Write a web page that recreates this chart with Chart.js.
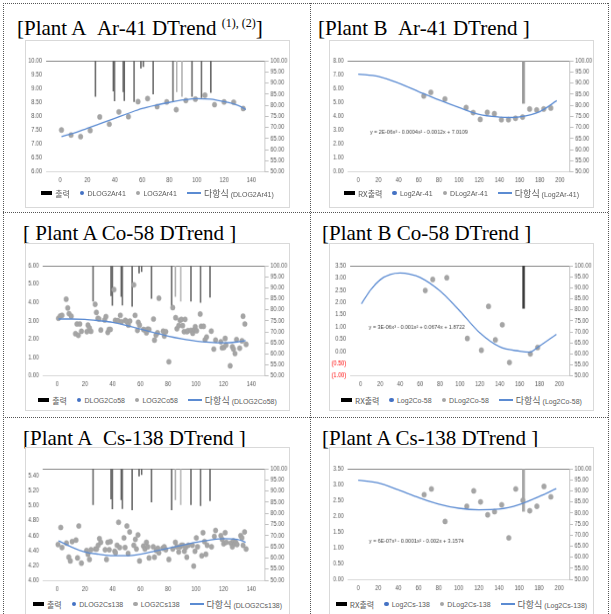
<!DOCTYPE html>
<html>
<head>
<meta charset="utf-8">
<script src="https://cdn.jsdelivr.net/npm/chart.js@4.4.0/dist/chart.umd.min.js"></script>
<style>
  html, body { margin: 0; padding: 0; background: #fff; }
  body { width: 611px; height: 614px; position: relative; overflow: hidden; font-family: "Liberation Sans", sans-serif; }
  .rule { position: absolute; border: 0 dotted #555; }
  .title { position: absolute; font-family: "Liberation Serif", serif; font-size: 21px; line-height: 22px; white-space: nowrap; color: #000; }
  .title sup { font-size: 12px; vertical-align: 0; position: relative; top: -8px; }
  .box { position: absolute; width: 263px; height: 166px; outline: 1px solid #d9d9d9; background: #fff; }
  .plot { position: absolute; left: 0; top: 0; width: 263px; height: 148px; }
  .legend { position: absolute; left: 0; width: 263px; height: 12px; display: flex; justify-content: center; align-items: center; gap: 10px; font-size: 7px; color: #595959; white-space: nowrap; }
  .legend .it { display: flex; align-items: center; gap: 3px; }
  .legend .ko { font-family: "Noto Sans CJK KR", sans-serif; font-size: 8px; }
  .legend .big { font-family: "Noto Sans CJK KR", sans-serif; font-size: 9px; }
  .mk-bar { display: inline-block; width: 11px; height: 4px; background: #000; }
  .mk-dot { display: inline-block; width: 4.5px; height: 4.5px; border-radius: 50%; }
  .mk-line { display: inline-block; width: 14px; height: 1.4px; background: #5b8bd2; }
</style>
</head>
<body>

<div class="rule" style="left:3px; top:3px; width:605px; border-top-width:1px;"></div>
<div class="rule" style="left:3px; top:3px; height:611px; border-left-width:1px;"></div>
<div class="rule" style="left:608px; top:3px; height:611px; border-left-width:1px;"></div>
<div class="rule" style="left:310px; top:3px; height:611px; border-left-width:1px;"></div>
<div class="rule" style="left:3px; top:212px; width:605px; border-top-width:1px;"></div>
<div class="rule" style="left:3px; top:417px; width:605px; border-top-width:1px;"></div>

<div class="title" style="left:17px; top:17px;">[Plant A&nbsp;&nbsp;Ar-41 DTrend <sup>(1), (2)</sup>]</div>
<div class="title" style="left:318px; top:17px;">[Plant B&nbsp;&nbsp;Ar-41 DTrend ]</div>
<div class="title" style="left:23px; top:222px;">[ Plant A Co-58 DTrend ]</div>
<div class="title" style="left:322px; top:222px;">[Plant B Co-58 DTrend ]</div>
<div class="title" style="left:23px; top:427px;">[Plant A&nbsp;&nbsp;Cs-138 DTrend ]</div>
<div class="title" style="left:322px; top:427px;">[Plant A Cs-138 DTrend ]</div>

<div id="panels"></div>

<script>
// ---- Plant A 출력 (same for the three Plant A charts), right axis %
const outAX   = [25.9, 38.9, 39.8, 46.2, 47.0, 54.1, 59.1, 60.9, 68.1, 82.6, 85.3, 89.2, 96.5, 103.5, 110.3];
const outALow = [83.9, 86.4, 82.0, 86.1, 82.1, 81.6, 96.7, 97.4, 85.1, 81.6, 86.1, 83.9, 83.9, 83.4, 85.7];
const outAShade = ['d', 'd', 'd', 'd', 'd', 'd', 'd', 'd', 'd', 'd', 'l', 'l', 'd', 'd', 'd'];

// ---- Plant B RX출력
const outB2X = [163.9], outB2Low = [80.9];
const outB4X = [164.0], outB4Low = [80.7];
const outB6X = [164.4], outB6Low = [80.7];

// ---- Plant A Ar-41
const p1X = [1, 8, 15, 22, 29, 36, 43, 50, 57, 64, 71, 78, 85, 92, 99, 106, 113, 120, 127, 134];
const p1Y = [7.51, 7.33, 7.27, 7.49, 7.98, 7.72, 8.16, 7.99, 8.53, 8.64, 8.35, 8.52, 8.24, 8.57, 8.62, 8.76, 8.42, 8.52, 8.51, 8.28];
const p1TrendX = [1, 10, 20, 30, 40, 50, 60, 70, 80, 90, 100, 110, 120, 130, 136];
const p1TrendY = [7.27, 7.40, 7.57, 7.75, 7.93, 8.11, 8.28, 8.40, 8.50, 8.59, 8.64, 8.62, 8.53, 8.40, 8.25];

// ---- Plant B Ar-41
const p2X = [65, 72, 86, 107, 114, 121, 128, 135, 142, 149, 156, 163, 170, 177, 184, 191];
const p2Y = [5.47, 5.73, 5.25, 4.63, 4.27, 3.78, 4.29, 4.19, 3.76, 3.76, 3.86, 3.95, 4.53, 4.46, 4.53, 4.60];
const p2TrendX = [0, 20, 40, 60, 80, 100, 120, 140, 150, 160, 180, 197];
const p2TrendY = [7.04, 6.87, 6.39, 5.78, 5.18, 4.63, 4.14, 3.95, 3.92, 3.96, 4.34, 5.13];

// ---- Plant A Co-58
const p3X = [0.9, 2.2, 3.5, 6.5, 7.6, 8.6, 10.2, 13.2, 14.3, 15.3, 16.4, 17.5, 21.4, 22.2, 23.3, 24.4, 27.4, 28.3, 29.4, 30.2,
  31.5, 34.3, 35.2, 36.5, 37.4, 38.4, 41.0, 41.9, 43.8, 45.6, 46.4, 49.2, 50.3, 51.4, 52.5, 55.3, 56.2, 57.9, 58.5, 59.4,
  62.2, 63.3, 64.4, 65.4, 66.3, 69.5, 70.2, 71.3, 72.4, 73.4, 76.5, 77.3, 78.4, 80.6, 83.4, 85.5, 86.4, 87.7, 88.6, 89.6,
  90.5, 91.6, 92.3, 93.7, 94.4, 96.5, 97.8, 98.9, 99.6, 100.6, 103.2, 103.9, 105.6, 106.7, 107.8, 111.2, 113.0, 114.3, 118.1, 119.0,
  120.3, 121.2, 121.8, 124.8, 126.4, 127.2, 128.3, 129.4, 131.7, 133.3, 134.1, 135.4, 136.3];
const p3Y = [3.14, 3.26, 3.30, 4.18, 3.70, 3.39, 3.25, 2.30, 2.83, 2.21, 2.83, 2.43, 2.41, 2.77, 2.61, 2.43, 3.90, 3.46, 3.14, 3.10,
  2.50, 3.05, 3.23, 2.37, 2.53, 2.53, 4.70, 3.03, 3.01, 3.30, 2.95, 3.03, 2.95, 2.77, 2.99, 4.96, 3.30, 2.48, 2.92, 2.77,
  2.53, 2.50, 2.35, 2.55, 2.53, 3.10, 1.95, 2.22, 2.35, 4.23, 2.44, 2.17, 2.41, 0.77, 3.72, 3.17, 2.57, 2.74, 3.03, 3.08,
  2.74, 2.41, 3.08, 2.41, 2.46, 2.48, 2.32, 2.52, 2.68, 2.46, 3.37, 2.70, 2.70, 1.97, 2.12, 2.44, 1.46, 1.95, 1.86, 1.53,
  1.55, 2.04, 1.68, 0.55, 1.59, 1.46, 1.22, 1.98, 1.51, 1.91, 3.25, 2.83, 1.72];
const p3TrendX = [1, 10, 20, 30, 40, 50, 60, 70, 80, 90, 100, 110, 120, 130, 136];
const p3TrendY = [3.10, 3.10, 3.08, 3.01, 2.92, 2.75, 2.55, 2.36, 2.17, 2.02, 1.90, 1.83, 1.80, 1.85, 1.93];

// ---- Plant B Co-58
const p4X = [65.2, 72.7, 86.8, 107.5, 121.6, 128.8, 135.7, 142.6, 149.8, 170.8, 178.1];
const p4Y = [2.49, 2.94, 3.01, 0.53, 0.05, 1.84, 0.47, 1.09, -0.45, -0.10, 0.16];
const p4TrendX = [1, 10, 20, 30, 40, 50, 60, 80, 100, 120, 140, 160, 170, 180, 197];
const p4TrendY = [1.94, 2.50, 2.93, 3.14, 3.20, 3.15, 3.02, 2.47, 1.65, 0.76, 0.19, 0.01, -0.03, 0.22, 0.70];

// ---- Plant A Cs-138
const p5X = [0.6, 2.6, 3.5, 6.7, 8.4, 9.5, 10.8, 13.6, 14.7, 15.6, 17.5, 21.2, 22.2, 23.3, 24.4, 27.6, 28.5, 29.6, 30.5, 31.5,
  34.6, 35.6, 36.5, 37.6, 38.4, 41.5, 42.1, 43.2, 44.3, 45.1, 48.2, 49.0, 50.3, 51.2, 52.3, 55.3, 56.4, 57.2, 58.3, 59.4,
  62.2, 63.3, 64.4, 65.4, 66.3, 69.3, 70.2, 71.5, 72.6, 73.4, 76.2, 77.3, 78.4, 80.6, 83.4, 85.3, 86.4, 87.7, 88.8, 89.6,
  90.7, 91.8, 92.7, 93.5, 94.6, 97.6, 98.5, 99.4, 100.4, 101.3, 104.3, 105.2, 106.3, 107.3, 108.2, 111.4, 113.4, 114.3, 118.1, 119.0,
  120.1, 121.2, 122.0, 125.3, 126.4, 127.2, 128.1, 128.9, 129.8, 132.4, 133.3, 134.1, 135.2, 136.3];
const p5Y = [4.48, 4.71, 4.44, 4.50, 4.31, 4.26, 4.52, 4.54, 4.30, 4.73, 4.23, 4.40, 4.35, 4.28, 4.41, 4.42, 4.42, 4.47, 4.56, 4.51,
  4.41, 4.28, 4.51, 4.41, 4.52, 4.39, 4.37, 4.47, 4.78, 4.44, 4.57, 4.44, 4.73, 4.36, 4.65, 4.47, 4.55, 4.42, 4.61, 4.26,
  4.46, 4.42, 4.51, 4.45, 4.30, 4.45, 4.31, 4.40, 4.43, 4.37, 4.43, 4.45, 4.41, 4.28, 4.42, 4.51, 4.45, 4.38, 4.45, 4.47,
  4.47, 4.39, 4.44, 4.31, 4.47, 4.47, 4.19, 4.39, 4.57, 4.45, 4.33, 4.64, 4.52, 4.35, 4.47, 4.45, 4.59, 4.67, 4.60, 4.55,
  4.49, 4.64, 4.51, 4.50, 4.45, 4.53, 4.49, 4.51, 4.48, 4.60, 4.57, 4.47, 4.65, 4.42];
const p5TrendX = [1, 10, 20, 30, 40, 50, 60, 70, 80, 90, 100, 110, 120, 130, 136];
const p5TrendY = [4.53, 4.45, 4.38, 4.35, 4.33, 4.33, 4.35, 4.39, 4.43, 4.47, 4.51, 4.54, 4.56, 4.55, 4.51];

// ---- Plant A Cs-138 (right)
const p6X = [65.6, 72.8, 86.4, 108.0, 114.9, 121.7, 128.8, 135.6, 142.7, 149.8, 156.7, 163.8, 170.6, 177.7, 184.8, 191.6];
const p6Y = [2.68, 2.86, 1.83, 2.31, 2.80, 2.45, 2.04, 2.14, 2.36, 1.31, 2.86, 2.50, 2.17, 2.31, 2.94, 2.61];
const p6TrendX = [0, 20, 40, 60, 80, 100, 120, 140, 160, 180, 197];
const p6TrendY = [3.14, 3.05, 2.83, 2.59, 2.38, 2.25, 2.20, 2.22, 2.36, 2.62, 2.87];

// legend names: [output, blue series, grey series, trend of]
const legA1 = ['출력', 'DLOG2Ar41', 'LOG2Ar41', 'DLOG2Ar41'];
const legB1 = ['RX출력', 'Log2Ar-41', 'DLog2Ar-41', 'Log2Ar-41'];
const legA2 = ['출력', 'DLOG2Co58', 'LOG2Co58', 'DLOG2Co58'];
const legB2 = ['RX출력', 'Log2Co-58', 'DLog2Co-58', 'Log2Co-58'];
const legA3 = ['출력', 'DLOG2Cs138', 'LOG2Cs138', 'DLOG2Cs138'];
const legB3 = ['RX출력', 'Log2Cs-138', 'DLog2Cs-138', 'Log2Cs-138'];

const panels = [
  { box: [26, 41], legTop: 146, xMax: 140, y: [6, 10, 0.5], area: [23.3, 235.7, 20, 130.7],
    px: p1X, py: p1Y, tx: p1TrendX, ty: p1TrendY, ox: outAX, ol: outALow, shade: outAShade, barW: 1, leg: legA1 },
  { box: [330, 41], legTop: 146, xMax: 200, y: [0, 8, 1], area: [20.7, 236.7, 20, 130.7],
    px: p2X, py: p2Y, tx: p2TrendX, ty: p2TrendY, ox: outB2X, ol: outB2Low, barColor: '#9a9a9a', barW: 2.6, leg: legB1,
    eq: { text: 'y = 2E-06x³ - 0.0004x² - 0.0012x + 7.0109', x: 11.7, y: 2.84 } },
  { box: [26, 244], legTop: 150, xMax: 140, y: [0, 6, 1], area: [19.7, 235.7, 22, 131.7],
    px: p3X, py: p3Y, tx: p3TrendX, ty: p3TrendY, ox: outAX, ol: outALow, shade: outAShade, barW: 1, leg: legA2 },
  { box: [330, 244], legTop: 150, xMax: 200, y: [-1, 3.5, 0.5], area: [23.3, 236, 22, 131.7],
    px: p4X, py: p4Y, tx: p4TrendX, ty: p4TrendY, ox: outB4X, ol: outB4Low, barColor: '#3a3a3a', barW: 2.2, leg: legB2,
    eq: { text: 'y = 3E-06x³ - 0.001x² + 0.0674x + 1.8722', x: 8.5, y: 0.97 } },
  { box: [26, 448], legTop: 150, xMax: 140, y: [4, 5.5, 0.2], area: [19.7, 235.7, 21, 132],
    px: p5X, py: p5Y, tx: p5TrendX, ty: p5TrendY, ox: outAX, ol: outALow, shade: outAShade, barW: 1, leg: legA3 },
  { box: [330, 448], legTop: 150, xMax: 200, y: [0, 3.5, 0.5], area: [20.7, 236, 21, 131],
    px: p6X, py: p6Y, tx: p6TrendX, ty: p6TrendY, ox: outB6X, ol: outB6Low, barColor: '#a6a6a6', barW: 2.6, leg: legB3,
    eq: { text: 'y = 6E-07x³ - 0.0001x² - 0.002x + 3.1574', x: 10.8, y: 1.22 } }
];

Chart.defaults.font.family = '"Liberation Sans", sans-serif';
Chart.defaults.color = '#595959';

const eqPlugin = {
  id: 'eq',
  afterDatasetsDraw(chart, args, opts) {
    if (!opts || !opts.text) return;
    const { ctx, scales } = chart;
    ctx.save();
    ctx.font = '6px "Liberation Sans", sans-serif';
    ctx.fillStyle = '#404040';
    ctx.textBaseline = 'middle';
    ctx.fillText(opts.text, scales.x.getPixelForValue(opts.x), scales.y.getPixelForValue(opts.y));
    ctx.restore();
  }
};

const fmt = v => v < 0 ? '(' + Math.abs(v).toFixed(2) + ')' : v.toFixed(2);
const H = 148;
const root = document.getElementById('panels');

panels.forEach((p, i) => {
  const box = document.createElement('div');
  box.className = 'box';
  box.style.left = p.box[0] + 'px';
  box.style.top = p.box[1] + 'px';
  box.innerHTML =
    '<div class="plot"><canvas id="c' + i + '"></canvas></div>' +
    '<div class="legend" style="top:' + p.legTop + 'px">' +
      '<span class="it"><i class="mk-bar"></i><span class="ko">' + p.leg[0] + '</span></span>' +
      '<span class="it"><i class="mk-dot" style="background:#4472c4"></i>' + p.leg[1] + '</span>' +
      '<span class="it"><i class="mk-dot" style="background:#a5a5a5"></i>' + p.leg[2] + '</span>' +
      '<span class="it"><i class="mk-line"></i><span><span class="big">다항식</span> (' + p.leg[3] + ')</span></span>' +
    '</div>';
  root.appendChild(box);

  const [L, R, T, B] = p.area;
  const bars = p.ox.map((x, k) => ({ x: x, y: [p.ol[k], 100] }));
  const barColors = p.ox.map((x, k) => p.shade ? (p.shade[k] === 'l' ? '#b0b0b0' : '#606060') : p.barColor);

  new Chart(document.getElementById('c' + i), {
    type: 'scatter',
    data: {
      datasets: [
        {
          type: 'line',
          data: p.tx.map((x, k) => ({ x: x, y: p.ty[k] })),
          borderColor: '#5b8bd2',
          borderWidth: 1.3,
          pointRadius: 0,
          cubicInterpolationMode: 'monotone',
          yAxisID: 'y'
        },
        {
          type: 'scatter',
          data: p.px.map((x, k) => ({ x: x, y: p.py[k] })),
          backgroundColor: '#a5a5a5',
          borderColor: '#9c9c9c',
          borderWidth: 0.5,
          pointRadius: 2.6,
          yAxisID: 'y'
        },
        {
          type: 'bar',
          data: bars,
          backgroundColor: barColors,
          barThickness: p.barW,
          grouped: false,
          yAxisID: 'y1'
        }
      ]
    },
    options: {
      responsive: false,
      maintainAspectRatio: false,
      animation: false,
      events: [],
      layout: { padding: { top: T, left: 0, right: 0, bottom: 0 } },
      plugins: { legend: { display: false }, tooltip: { enabled: false }, eq: p.eq || {} },
      scales: {
        x: {
          type: 'linear', position: 'bottom', min: 0, max: p.xMax,
          ticks: { stepSize: 20, font: { size: 6.3 }, padding: 5, maxRotation: 0 },
          grid: { display: false, drawTicks: false },
          border: { color: '#d9d9d9' },
          afterFit: s => { s.height = H - B; }
        },
        x2: {
          type: 'linear', position: 'top', min: 0, max: p.xMax,
          ticks: { display: false },
          grid: { display: false, drawTicks: false },
          border: { display: true, color: '#8a8a8a', dash: [1, 2], width: 1 },
          afterFit: s => { s.height = 0; }
        },
        y: {
          type: 'linear', position: 'left', min: p.y[0], max: p.y[1],
          ticks: {
            stepSize: p.y[2], includeBounds: false, padding: 5, font: { size: 6.3 },
            callback: v => fmt(v),
            color: c => c.tick && c.tick.value < 0 ? '#ff0000' : '#595959'
          },
          grid: { display: false, drawTicks: false },
          border: { display: false },
          afterFit: s => { s.width = L; }
        },
        y1: {
          type: 'linear', position: 'right', min: 50, max: 100,
          ticks: { stepSize: 5, padding: 2, font: { size: 6.3 }, callback: v => v.toFixed(2) },
          grid: { drawOnChartArea: false, drawTicks: true, tickLength: 4, color: '#bfbfbf' },
          border: { color: '#bfbfbf' },
          afterFit: s => { s.width = 263 - R; }
        }
      }
    },
    plugins: [eqPlugin]
  });
  const cv = document.getElementById('c' + i);
  cv.style.width = '263px';
  cv.style.height = H + 'px';
});
</script>
</body>
</html>
